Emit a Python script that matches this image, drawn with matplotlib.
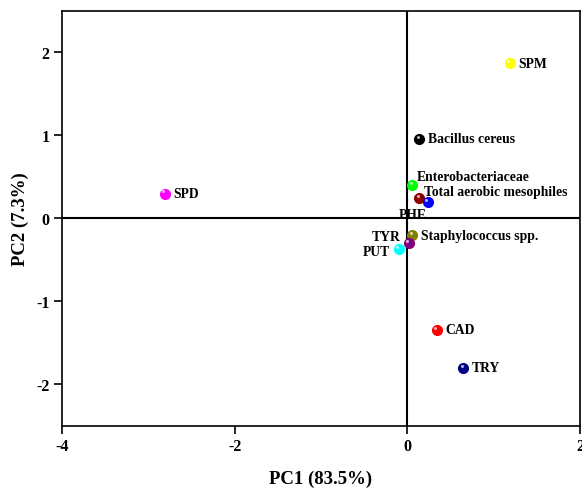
import matplotlib
matplotlib.use("Agg")
import matplotlib.pyplot as plt

plt.rcParams['font.family'] = ['Liberation Serif', 'DejaVu Serif']
plt.rcParams['font.weight'] = 'bold'
plt.rcParams['axes.unicode_minus'] = False

names = ['SPM', 'Bacillus cereus', 'Enterobacteriaceae', 'Total aerobic mesophiles',
         'PHE', 'Staphylococcus spp.', 'TYR', 'PUT', 'SPD', 'CAD', 'TRY']
pc1 = [1.19, 0.14, 0.06, 0.14, 0.24, 0.06, 0.02, -0.10, -2.81, 0.34, 0.65]
pc2 = [1.87, 0.96, 0.40, 0.24, 0.20, -0.20, -0.30, -0.37, 0.30, -1.34, -1.80]
colors = ['#ffff00', '#000000', '#00ff00', '#8b0000', '#0000ff', '#808000',
          '#800080', '#00ffff', '#ff00ff', '#ff0000', '#000080']
# label offsets (points) and alignment
offsets = [(6, 0), (6, 0), (3, 6), (3, 5), (-1, -9), (6, 0), (-6, 5), (-6, -2),
           (6, 0), (6, 0), (6, 0)]
aligns = ['left', 'left', 'left', 'left', 'right', 'left', 'right', 'right',
          'left', 'left', 'left']

fig = plt.figure(figsize=(5.82, 4.89), dpi=100)
ax = fig.add_axes([0.1065, 0.1268, 0.89, 0.849])

ax.axhline(0, color='black', lw=1.5)
ax.axvline(0, color='black', lw=1.5)

for x, y, c in zip(pc1, pc2, colors):
    ax.plot(x, y, 'o', ms=7, color=c, mec=c, zorder=3)
    ax.plot(x - 0.02, y + 0.025, 'o', ms=2.2, color='white', alpha=0.7, mec='none', zorder=4)

for n, x, y, off, ha in zip(names, pc1, pc2, offsets, aligns):
    ax.annotate(n, (x, y), xytext=off, textcoords='offset points',
                ha=ha, va='center', fontsize=9.8, fontweight='bold')

ax.set_xlim(-4, 2)
ax.set_ylim(-2.5, 2.5)
ax.set_xticks([-4, -2, 0, 2])
ax.set_yticks([-2, -1, 0, 1, 2])
ax.tick_params(direction='out', length=6, width=1.2, labelsize=11.5, pad=3,
               top=False, right=False)
for s in ax.spines.values():
    s.set_linewidth(1.2)
for lab in ax.get_xticklabels() + ax.get_yticklabels():
    lab.set_fontweight('bold')
ax.set_xlabel('PC1 (83.5%)', fontsize=13.5, fontweight='bold', labelpad=11)
ax.set_ylabel('PC2 (7.3%)', fontsize=13.5, fontweight='bold', labelpad=5)

fig.savefig('out.png', dpi=100)
